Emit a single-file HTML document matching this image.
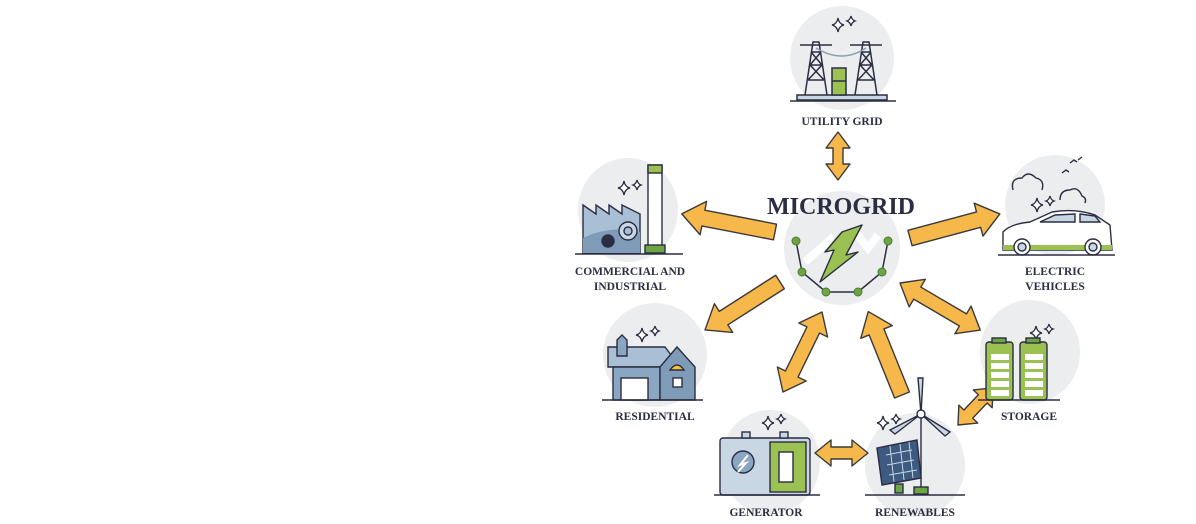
<!DOCTYPE html>
<html><head><meta charset="utf-8"><style>
html,body{margin:0;padding:0;background:#fff;}
svg{display:block;}
text{font-family:"Liberation Serif",serif;font-weight:bold;fill:#2b2d42;}
</style></head><body>
<svg width="1196" height="524" viewBox="0 0 1196 524" xmlns="http://www.w3.org/2000/svg">
<defs>
<g id="sa"><polygon points="0,-7 -1,7" /></g>
</defs>
<!-- background circles -->
<g fill="#ecedee">
<ellipse cx="842" cy="58" rx="52" ry="52"/>
<ellipse cx="842" cy="248" rx="58" ry="57"/>
<ellipse cx="628" cy="210" rx="50" ry="52"/>
<ellipse cx="1055" cy="205" rx="50" ry="50"/>
<ellipse cx="655" cy="355" rx="52" ry="52"/>
<ellipse cx="1030" cy="352" rx="50" ry="52"/>
<ellipse cx="770" cy="462" rx="50" ry="52"/>
<ellipse cx="915" cy="465" rx="50" ry="52"/>
</g>

<!-- arrows -->
<g fill="#f7b84b" stroke="#3a3a3a" stroke-width="1.4" stroke-linejoin="round">
<polygon transform="translate(838,180) rotate(-90)" points="0,0 16,-12 16,-5 32,-5 32,-12 48,0 32,12 32,5 16,5 16,12"/>
<polygon transform="translate(775,232) rotate(191)" points="0,-8 73,-8 73,-17 95,0 73,17 73,8 0,8"/>
<polygon transform="translate(910,238) rotate(-15)" points="0,-8 71,-8 71,-17 93,0 71,17 71,8 0,8"/>
<polygon transform="translate(780,282) rotate(147.4)" points="0,-8 67,-8 67,-17 89,0 67,17 67,8 0,8"/>
<polygon transform="translate(900,283) rotate(30.4)" points="0,0 20,-16 20,-7 73,-7 73,-16 93,0 73,16 73,7 20,7 20,16"/>
<polygon transform="translate(822,312) rotate(116)" points="0,0 20,-16 20,-7 69,-7 69,-16 89,0 69,16 69,7 20,7 20,16"/>
<polygon transform="translate(902,395) rotate(-112)" points="0,-8 68,-8 68,-17 90,0 68,17 68,8 0,8"/>
<polygon transform="translate(958,425) rotate(-46.6)" points="0,0 15,-13 15,-6 36,-6 36,-13 51,0 36,13 36,6 15,6 15,13"/>
<polygon transform="translate(815,453)" points="0,0 16,-13 16,-6 37,-6 37,-13 53,0 37,13 37,6 16,6 16,13"/>
</g>

<!-- sparkles -->
<g fill="#fff" stroke="#2b2d42" stroke-width="1.3">
<path id="sp" d="M0,-7 Q1,-1 6,0 Q1,1 0,7 Q-1,1 -6,0 Q-1,-1 0,-7Z" transform="translate(838,25)"/>
<path d="M0,-5 Q1,-1 4,0 Q1,1 0,5 Q-1,1 -4,0 Q-1,-1 0,-5Z" transform="translate(851,21)"/>
<path d="M0,-7 Q1,-1 6,0 Q1,1 0,7 Q-1,1 -6,0 Q-1,-1 0,-7Z" transform="translate(624,188)"/>
<path d="M0,-5 Q1,-1 4,0 Q1,1 0,5 Q-1,1 -4,0 Q-1,-1 0,-5Z" transform="translate(637,185)"/>
<path d="M0,-7 Q1,-1 6,0 Q1,1 0,7 Q-1,1 -6,0 Q-1,-1 0,-7Z" transform="translate(1037,205)"/>
<path d="M0,-5 Q1,-1 4,0 Q1,1 0,5 Q-1,1 -4,0 Q-1,-1 0,-5Z" transform="translate(1050,201)"/>
<path d="M0,-7 Q1,-1 6,0 Q1,1 0,7 Q-1,1 -6,0 Q-1,-1 0,-7Z" transform="translate(642,335)"/>
<path d="M0,-5 Q1,-1 4,0 Q1,1 0,5 Q-1,1 -4,0 Q-1,-1 0,-5Z" transform="translate(655,331)"/>
<path d="M0,-7 Q1,-1 6,0 Q1,1 0,7 Q-1,1 -6,0 Q-1,-1 0,-7Z" transform="translate(1036,333)"/>
<path d="M0,-5 Q1,-1 4,0 Q1,1 0,5 Q-1,1 -4,0 Q-1,-1 0,-5Z" transform="translate(1049,329)"/>
<path d="M0,-7 Q1,-1 6,0 Q1,1 0,7 Q-1,1 -6,0 Q-1,-1 0,-7Z" transform="translate(768,423)"/>
<path d="M0,-5 Q1,-1 4,0 Q1,1 0,5 Q-1,1 -4,0 Q-1,-1 0,-5Z" transform="translate(781,419)"/>
<path d="M0,-7 Q1,-1 6,0 Q1,1 0,7 Q-1,1 -6,0 Q-1,-1 0,-7Z" transform="translate(883,423)"/>
<path d="M0,-5 Q1,-1 4,0 Q1,1 0,5 Q-1,1 -4,0 Q-1,-1 0,-5Z" transform="translate(896,419)"/>
</g>

<!-- utility grid towers -->
<g stroke="#2b2d42" stroke-width="1.5" fill="none">
<path d="M805,95 L813,42 L819,42 L827,95 M808,80 L824,80 M810,65 L822,65 M811,52 L821,52 M808,80 L822,65 L811,52 M824,80 L810,65 L821,52 M800,45 L832,45"/>
<path d="M855,95 L863,42 L869,42 L877,95 M858,80 L874,80 M860,65 L872,65 M861,52 L871,52 M858,80 L872,65 L861,52 M874,80 L860,65 L871,52 M850,45 L882,45"/>
<path d="M816,48 Q842,64 866,48" stroke="#8ba0b6"/>
<rect x="797" y="95" width="90" height="5" fill="#c9d6e4"/>
<line x1="790" y1="101" x2="896" y2="101"/>
<rect x="832" y="68" width="14" height="27" fill="#9ac152"/>
<line x1="832" y1="81" x2="846" y2="81"/>
</g>

<!-- center microgrid -->
<g>
<path d="M805,262 L830,240 L835,255 L855,232 L868,248 L878,235" stroke="#fff" stroke-width="8" fill="none" opacity=".9"/>
<polyline points="796,241 802,272 826,292 858,292 882,272 888,241" fill="none" stroke="#2b2d42" stroke-width="1.5"/>
<g fill="#6da544" stroke="#4d7a30" stroke-width="1">
<circle cx="796" cy="241" r="4"/><circle cx="802" cy="272" r="4"/><circle cx="826" cy="292" r="4"/>
<circle cx="858" cy="292" r="4"/><circle cx="882" cy="272" r="4"/><circle cx="888" cy="241" r="4"/>
</g>
<polygon points="862,225 846,255 858,252 820,282 834,250 825,252 842,232" fill="#9ac152" stroke="#2b2d42" stroke-width="1.4" stroke-linejoin="round"/>
</g>

<!-- factory -->
<g stroke="#2b2d42" stroke-width="1.4">
<path d="M583,253 L583,205 L596,214 L596,205 L609,214 L609,205 L622,214 L622,205 L640,214 L640,253Z" fill="#a9bfd6"/>
<path d="M583,253 L583,238 Q610,225 640,232 L640,253Z" fill="#7e9bb8" stroke="none"/>
<rect x="648" y="165" width="14" height="85" fill="#fff"/>
<rect x="648" y="165" width="14" height="8" fill="#9ac152"/>
<rect x="645" y="245" width="20" height="8" fill="#6da544"/>
<circle cx="628" cy="231" r="9" fill="#c9d6e4"/>
<circle cx="628" cy="231" r="4" fill="#a9bfd6"/>
<circle cx="608" cy="241" r="6" fill="#2b2d42"/>
<line x1="575" y1="254" x2="683" y2="254"/>
</g>

<!-- car -->
<g stroke="#2b2d42" stroke-width="1.4">
<path d="M1003,250 L1003,232 Q1010,224 1030,222 L1052,212 Q1075,208 1095,215 L1110,225 L1112,250Z" fill="#fff"/>
<path d="M1003,245 L1112,245 L1112,250 L1003,250Z" fill="#9ac152" stroke="none"/>
<path d="M1040,222 L1055,215 L1075,214 L1075,222Z M1080,214 L1095,216 L1100,222 L1080,222Z" fill="#c9d6e4"/>
<circle cx="1022" cy="247" r="8" fill="#fff"/><circle cx="1022" cy="247" r="4" fill="#c9d6e4"/>
<circle cx="1093" cy="247" r="8" fill="#fff"/><circle cx="1093" cy="247" r="4" fill="#c9d6e4"/>
<line x1="998" y1="255" x2="1115" y2="255"/>
<path d="M1013,190 Q1010,178 1022,178 Q1028,170 1036,178 Q1045,180 1042,190" fill="none"/>
<path d="M1060,200 Q1060,190 1070,190 Q1078,186 1082,196 Q1087,198 1085,203" fill="none"/>
<path d="M1070,163 l4,-3 l3,2 M1062,173 l4,-3 l3,2 M1078,160 l4,-3" fill="none"/>
</g>

<!-- house -->
<g stroke="#2b2d42" stroke-width="1.4">
<path d="M608,347 L665,347 L680,367 L608,367Z" fill="#a9bfd6"/>
<path d="M613,367 L613,400 L660,400 L660,367Z" fill="#8ba6c2"/>
<path d="M660,400 L660,367 L677,347 L695,367 L695,400Z" fill="#7e9bb8"/>
<rect x="621" y="378" width="27" height="22" fill="#fff"/>
<path d="M670,370 Q677,360 684,370Z" fill="#f6c430"/>
<rect x="673" y="378" width="9" height="9" fill="#fff"/>
<path d="M617,340 L622,335 L627,340 L627,356 L617,356Z" fill="#8ba6c2"/>
<line x1="602" y1="400" x2="703" y2="400"/>
</g>

<!-- batteries -->
<g stroke="#2b2d42" stroke-width="1.4">
<rect x="986" y="342" width="27" height="58" rx="3" fill="#9ac152"/>
<rect x="1020" y="342" width="27" height="58" rx="3" fill="#9ac152"/>
<rect x="992" y="338" width="14" height="5" fill="#6da544"/>
<rect x="1026" y="338" width="14" height="5" fill="#6da544"/>
<g fill="#fff" stroke="none">
<rect x="991" y="354" width="18" height="6"/><rect x="991" y="363" width="18" height="6"/><rect x="991" y="372" width="18" height="6"/><rect x="991" y="381" width="18" height="6"/><rect x="991" y="390" width="18" height="6"/>
<rect x="1025" y="354" width="18" height="6"/><rect x="1025" y="363" width="18" height="6"/><rect x="1025" y="372" width="18" height="6"/><rect x="1025" y="381" width="18" height="6"/><rect x="1025" y="390" width="18" height="6"/>
</g>
<line x1="978" y1="400" x2="1060" y2="400"/>
</g>

<!-- generator -->
<g stroke="#2b2d42" stroke-width="1.4">
<rect x="720" y="438" width="90" height="57" rx="3" fill="#c9d6e4"/>
<rect x="742" y="432" width="8" height="6" fill="#c9d6e4"/><rect x="780" y="432" width="8" height="6" fill="#c9d6e4"/>
<rect x="770" y="442" width="36" height="50" fill="#9ac152"/>
<rect x="779" y="452" width="14" height="30" fill="#fff"/>
<circle cx="743" cy="462" r="11" fill="#8ba6c2"/>
<path d="M748,455 L740,465 L746,463 L738,472" fill="none" stroke="#fff" stroke-width="2"/>
<line x1="714" y1="495" x2="820" y2="495"/>
</g>

<!-- renewables -->
<g stroke="#2b2d42" stroke-width="1.4">
<line x1="921" y1="414" x2="921" y2="488"/>
<path d="M921,414 L918,378 L923,378Z M921,414 L950,432 L945,436Z M921,414 L890,430 L895,434Z" fill="#c9d6e4"/>
<circle cx="921" cy="414" r="4" fill="#fff"/>
<polygon points="877,448 917,440 921,478 882,485" fill="#3d5a80"/>
<path d="M886,455 L912,450 M887,465 L914,460 M889,475 L917,470 M890,446 L894,482 M900,444 L904,480 M909,442 L913,478" stroke="#c9d6e4" stroke-width="1"/>
<rect x="895" y="484" width="8" height="9" fill="#6da544"/>
<rect x="914" y="487" width="14" height="7" fill="#6da544"/>
<line x1="865" y1="495" x2="965" y2="495"/>
</g>

<!-- labels -->
<text x="841" y="214" font-size="24" text-anchor="middle">MICROGRID</text>
<g font-size="11.5" text-anchor="middle">
<text x="842" y="125">UTILITY GRID</text>
<text x="630" y="275">COMMERCIAL AND</text>
<text x="630" y="290">INDUSTRIAL</text>
<text x="1055" y="275">ELECTRIC</text>
<text x="1055" y="290">VEHICLES</text>
<text x="655" y="420">RESIDENTIAL</text>
<text x="1029" y="420">STORAGE</text>
<text x="766" y="516">GENERATOR</text>
<text x="915" y="516">RENEWABLES</text>
</g>
</svg>
</body></html>
